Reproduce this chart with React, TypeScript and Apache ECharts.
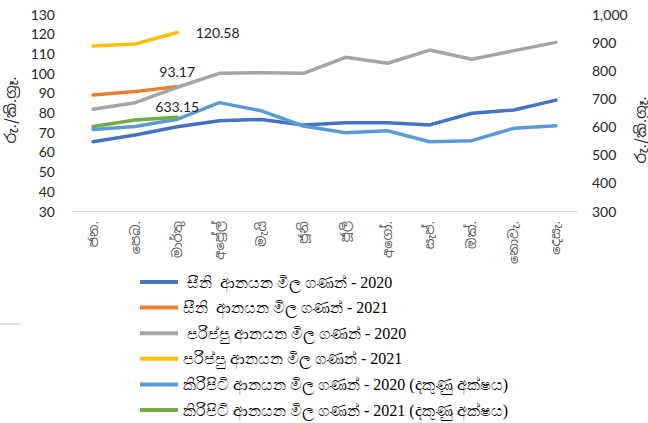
import React, { useEffect, useRef } from "react";
import * as echarts from "echarts";

const months = ["ජන.", "පෙබ.", "මාර්තු", "අප්‍රේල්", "මැයි", "ජූනි", "ජූලි", "අගෝ.", "සැප්.", "ඔක්.", "නොවැ.", "දෙසැ."];
const sugar2020 = [65.2, 68.6, 72.8, 75.8, 76.5, 73.7, 74.8, 74.8, 73.7, 79.6, 81.3, 86.3];
const sugar2021 = [88.9, 90.6, 93.17];
const dhal2020 = [81.6, 85.0, 92.8, 99.9, 100.2, 99.9, 108.0, 105.0, 111.7, 107.0, 111.4, 115.6];
const dhal2021 = [113.8, 114.8, 120.58];
const milk2020 = [590, 600, 626, 685, 656, 602, 578, 585, 546, 550, 594, 603];
const milk2021 = [600, 623, 633.15];
const seriesNames = [
  " සීනි  ආනයන මිල ගණන් - 2020",
  "සීනි  ආනයන මිල ගණන් - 2021",
  " පරිප්පු ආනයන මිල ගණන් - 2020",
  "පරිප්පු ආනයන මිල ගණන් - 2021",
  "කිරිපිටි ආනයන මිල ගණන් - 2020 (දකුණු අක්ෂය)",
  "කිරිපිටි ආනයන මිල ගණන් - 2021 (දකුණු අක්ෂය)",
];
const colors = ["#4472C4", "#ED7D31", "#A5A5A5", "#FFC000", "#5B9BD5", "#70AD47"];
const axisName = "රු./කි.ග්‍රෑ.";

const labelFont = { fontFamily: "Lato, 'Noto Sans Sinhala', sans-serif", fontSize: 14, color: "#262626" };

function withLastLabel(arr: number[], label: any) {
  return arr.map((v, i) => (i === arr.length - 1 ? { value: v, label: { show: true, ...labelFont, ...label } } : v));
}

export default function App() {
  const ref = useRef<HTMLDivElement>(null);
  useEffect(() => {
    const chart = echarts.init(ref.current!, null, { renderer: "svg" });
    const mk = (i: number, data: any[], yAxisIndex: number) => ({
      name: seriesNames[i],
      type: "line",
      data,
      yAxisIndex,
      symbol: "circle",
      symbolSize: 1,
      showSymbol: true,
      lineStyle: { width: 3.5, color: colors[i], cap: "round", join: "round" },
      itemStyle: { color: colors[i], borderWidth: 0 },
      label: { show: false },
      z: 2 + i,
    });
    chart.setOption({
      animation: false,
      grid: { left: 72, right: 71, top: 14, bottom: 212 },
      xAxis: {
        type: "category",
        data: months,
        boundaryGap: true,
        axisTick: { show: false },
        axisLine: { lineStyle: { color: "#d9d9d9", width: 1 } },
        axisLabel: { rotate: 90, interval: 0, margin: 10, fontSize: 13, color: "#595959", fontFamily: "'Noto Sans Sinhala', sans-serif" },
      },
      yAxis: [
        {
          type: "value",
          min: 30,
          max: 130,
          interval: 10,
          splitLine: { show: false },
          axisLine: { show: false },
          axisTick: { show: false },
          axisLabel: { margin: 17, fontSize: 14, color: "#262626", fontFamily: "Lato, sans-serif" },
        },
        {
          type: "value",
          min: 300,
          max: 1000,
          interval: 100,
          splitLine: { show: false },
          axisLine: { show: false },
          axisTick: { show: false },
          axisLabel: {
            margin: 15,
            fontSize: 14,
            color: "#262626",
            fontFamily: "Lato, sans-serif",
            formatter: (v: number) => v.toLocaleString("en-US"),
          },
        },
      ],
      legend: {
        orient: "vertical",
        left: 140,
        top: 272,
        padding: 0,
        itemWidth: 38,
        itemHeight: 4,
        itemGap: 5.6,
        icon: "rect",
        textStyle: { fontFamily: "'Liberation Serif', 'Times New Roman', serif", fontSize: 16, color: "#000", lineHeight: 20 },
        data: seriesNames,
      },
      graphic: [
        {
          type: "text",
          x: 10,
          y: 110,
          rotation: Math.PI / 2,
          style: { text: axisName, fontSize: 15, fill: "#262626", align: "center", verticalAlign: "middle", fontFamily: "'Noto Sans Sinhala', sans-serif" },
        },
        {
          type: "text",
          x: 640,
          y: 130,
          rotation: Math.PI / 2,
          style: { text: axisName, fontSize: 15, fill: "#262626", align: "center", verticalAlign: "middle", fontFamily: "'Noto Sans Sinhala', sans-serif" },
        },
        {
          type: "line",
          shape: { x1: 0, y1: 324, x2: 20, y2: 324 },
          style: { stroke: "#d9d9d9", lineWidth: 1.5 },
        },
      ],
      series: [
        mk(0, sugar2020, 0),
        mk(1, withLastLabel(sugar2021, { position: "top", distance: 8 }), 0),
        mk(2, dhal2020, 0),
        mk(3, withLastLabel(dhal2021, { position: "right", distance: 18 }), 0),
        mk(4, milk2020, 1),
        mk(5, withLastLabel(milk2021, { position: "top", distance: 3 }), 1),
      ],
    });
    return () => chart.dispose();
  }, []);
  return <div ref={ref} style={{ width: 648, height: 423, position: "absolute", left: 0, top: 0 }} />;
}
